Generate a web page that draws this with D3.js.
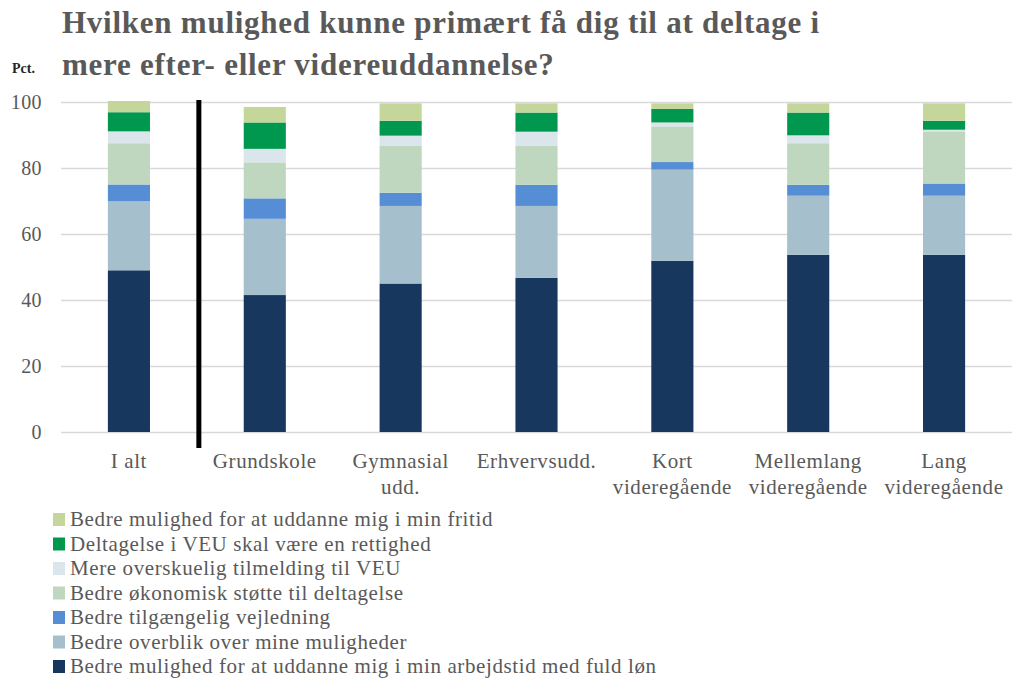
<!DOCTYPE html>
<html>
<head>
<meta charset="utf-8">
<script src="https://cdn.jsdelivr.net/npm/d3@7"></script>
<style>
	body { margin: 0; background: #fff; }
	text { font-family: "Liberation Serif", "DejaVu Serif", serif; }
</style>
</head>
<body>
<svg id="chart"></svg>
<script>
(function(){
	///////////////////////////////////////////////////////////////////
	//// Data /////////////////////////////////////////////////////////
	///////////////////////////////////////////////////////////////////
	const categories = ["I alt", "Grundskole", "Gymnasial\nudd.", "Erhvervsudd.",
		"Kort\nvideregående", "Mellemlang\nvideregående", "Lang\nvideregående"];

	const seriesNames = [
		"Bedre mulighed for at uddanne mig i min arbejdstid med fuld løn",
		"Bedre overblik over mine muligheder",
		"Bedre tilgængelig vejledning",
		"Bedre økonomisk støtte til deltagelse",
		"Mere overskuelig tilmelding til VEU",
		"Deltagelse i VEU skal være en rettighed",
		"Bedre mulighed for at uddanne mig i min fritid"
	];

	// one array per series, one value per category (pct.)
	const arbejdstid = [49.0, 41.5, 45.0, 46.7, 51.9, 53.7, 53.7];
	const overblik   = [20.9, 23.1, 23.5, 21.8, 27.6, 17.9, 17.9];
	const vejledning = [5.1, 6.2, 4.0, 6.4, 2.3, 3.3, 3.7];
	const oekonomi   = [12.5, 10.9, 14.3, 11.9, 10.8, 12.6, 15.8];
	const tilmelding = [3.6, 4.1, 3.0, 4.2, 1.2, 2.4, 0.5];
	const rettighed  = [5.8, 8.0, 4.5, 5.8, 4.1, 6.9, 2.7];
	const fritid     = [3.4, 4.7, 5.3, 2.8, 1.7, 2.8, 5.3];

	const yTicks = [0, 20, 40, 60, 80, 100];

	const titleLines = ["Hvilken mulighed kunne primært få dig til at deltage i",
		"mere efter- eller videreuddannelse?"];

	const seriesValues = [arbejdstid, overblik, vejledning, oekonomi, tilmelding, rettighed, fritid];
	const colors = ["#17375e", "#a5bfcd", "#558ed5", "#bfd6bf", "#dbe5ec", "#00984f", "#c5d69b"];

	///////////////////////////////////////////////////////////////////
	//// Inital Set Up ////////////////////////////////////////////////
	///////////////////////////////////////////////////////////////////
	const width = 1012;
	const height = 679;
	const plot = {left: 61, right: 1012, top: 102, bottom: 432};

	const svg = d3.select("#chart")
			.attr("width", width)
			.attr("height", height);

	const rows = categories.map((c, i) => {
		const row = {cat: c};
		seriesNames.forEach((s, j) => row[s] = seriesValues[j][i]);
		return row;
	});

	const stacked = d3.stack().keys(seriesNames)(rows);

	const x = d3.scaleBand()
			.domain(categories)
			.range([plot.left, plot.right])
			.paddingInner(0.69)
			.paddingOuter(0.345);

	const y = d3.scaleLinear()
			.domain([0, 100])
			.range([plot.bottom, plot.top]);

	const color = d3.scaleOrdinal()
			.domain(seriesNames)
			.range(colors);

	///////////////////////////////////////////////////////////////////
	//// Title ////////////////////////////////////////////////////////
	///////////////////////////////////////////////////////////////////
	svg.append("g")
		.selectAll("text")
		.data(titleLines)
		.enter().append("text")
			.attr("x", 62)
			.attr("y", (d, i) => 33 + i * 42)
			.style("font-size", "31px")
			.style("font-weight", "bold")
			.style("letter-spacing", "0.75px")
			.style("fill", "#595959")
			.text(d => d);

	svg.append("text")
			.attr("x", 12)
			.attr("y", 73)
			.style("font-size", "14px")
			.style("font-weight", "bold")
			.style("fill", "#262626")
			.text("Pct.");

	///////////////////////////////////////////////////////////////////
	//// Axes /////////////////////////////////////////////////////////
	///////////////////////////////////////////////////////////////////
	const yAxis = svg.append("g")
			.attr("transform", `translate(${plot.left}, 0)`)
			.call(d3.axisLeft(y)
				.tickValues(yTicks)
				.tickSize(-(plot.right - plot.left))
				.tickPadding(19));

	yAxis.select(".domain").remove();
	yAxis.selectAll(".tick line")
			.style("stroke", "#d9d9d9")
			.style("stroke-width", 1.5);
	yAxis.selectAll(".tick text")
			.style("font-family", "'Liberation Serif', serif")
			.style("font-size", "20px")
			.style("letter-spacing", "0.4px")
			.style("fill", "#595959");

	///////////////////////////////////////////////////////////////////
	//// Bars /////////////////////////////////////////////////////////
	///////////////////////////////////////////////////////////////////
	svg.append("g")
		.selectAll("g")
		.data(stacked)
		.enter().append("g")
			.style("fill", d => color(d.key))
		.selectAll("rect")
		.data(d => d)
		.enter().append("rect")
			.attr("x", d => x(d.data.cat))
			.attr("width", x.bandwidth())
			.attr("y", d => y(d[1]))
			.attr("height", d => y(d[0]) - y(d[1]));

	// black divider between "I alt" and the rest
	const divX = (x(categories[0]) + x.bandwidth() + x(categories[1])) / 2 + 2;
	svg.append("line")
			.attr("x1", divX)
			.attr("x2", divX)
			.attr("y1", y(100) - 2)
			.attr("y2", plot.bottom + 16)
			.style("stroke", "#000")
			.style("stroke-width", 5);

	// category labels
	svg.append("g")
		.selectAll("text")
		.data(categories)
		.enter().append("text")
			.attr("text-anchor", "middle")
			.attr("transform", d => `translate(${x(d) + x.bandwidth() / 2}, 468)`)
			.style("font-size", "21px")
			.style("letter-spacing", "0.6px")
			.style("fill", "#595959")
		.selectAll("tspan")
		.data(d => d.split("\n"))
		.enter().append("tspan")
			.attr("x", 0)
			.attr("dy", (d, i) => i ? 26 : 0)
			.text(d => d);

	///////////////////////////////////////////////////////////////////
	//// Legend ///////////////////////////////////////////////////////
	///////////////////////////////////////////////////////////////////
	const legend = svg.append("g")
		.selectAll("g")
		.data(seriesNames.slice().reverse())
		.enter().append("g")
			.attr("transform", (d, i) => `translate(53, ${526 + i * 24.5})`);

	legend.append("rect")
			.attr("y", -13)
			.attr("width", 12)
			.attr("height", 13)
			.style("fill", d => color(d));

	legend.append("text")
			.attr("x", 17)
			.style("font-size", "21px")
			.style("letter-spacing", "0.6px")
			.style("fill", "#595959")
			.text(d => d);
}());
</script>
</body>
</html>
